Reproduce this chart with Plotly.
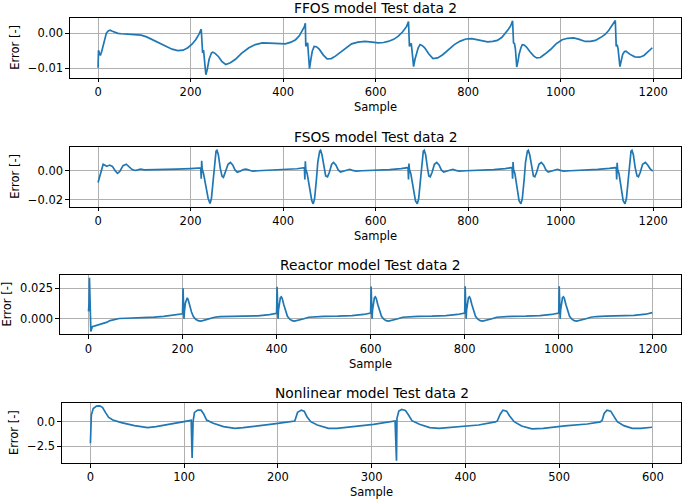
import plotly.graph_objects as go

# ---------------- data ----------------
ffos_x = [0, 1, 3, 5, 8, 12, 18, 22, 26, 31, 36, 43, 50, 62, 75, 85, 93, 105, 118, 132, 147, 160, 172, 184, 194, 203, 211, 218, 223,
          224, 226, 228, 230, 233, 236, 240, 245, 248, 253, 260, 268, 276, 286, 297, 310, 326, 340, 355, 370, 383, 395, 405, 417, 427, 435, 441, 446, 448,
          449, 451, 453, 455, 457, 460, 463, 467, 472, 478, 487, 495, 504, 513, 530, 548, 562, 577, 592, 606, 617, 627, 639, 649, 658, 667, 671,
          673, 675, 677, 680, 682, 685, 688, 692, 696, 701, 706, 715, 724, 734, 745, 757, 770, 783, 795, 808, 820, 832, 842, 853, 863, 873, 881, 887, 892, 896,
          898, 900, 902, 905, 908, 910, 914, 917, 921, 926, 934, 942, 948, 956, 966, 978, 990, 1003, 1015, 1028, 1040, 1053, 1064, 1075, 1086, 1096, 1104, 1110, 1118,
          1120, 1122, 1124, 1128, 1131, 1134, 1138, 1141, 1145, 1150, 1160, 1171, 1180, 1186, 1192, 1198]
ffos_y = [-0.0099, -0.0049, -0.0058, -0.0064, -0.0052, -0.003, 0.0, 0.0006, 0.0008, 0.0005, 0.0002, -0.0001, -0.0002, -0.0003, -0.0003, -0.0004, -0.0006, -0.0011, -0.0019, -0.0029, -0.0038, -0.0046, -0.005, -0.0049, -0.0042, -0.0032, -0.0019, -0.0004, 0.0011,
          -0.0028, -0.0057, -0.0049, -0.008, -0.0119, -0.0104, -0.0075, -0.0057, -0.0055, -0.0058, -0.0067, -0.0082, -0.009, -0.0085, -0.0075, -0.0058, -0.0042, -0.0033, -0.0028, -0.0029, -0.003, -0.0031, -0.0031, -0.0026, -0.0019, -0.0008, 0.0005, 0.0018, 0.0028,
          -0.0038, -0.0032, -0.0028, -0.0065, -0.0102, -0.0075, -0.0052, -0.0038, -0.0039, -0.0046, -0.0063, -0.0074, -0.0073, -0.0066, -0.0048, -0.0031, -0.0026, -0.0024, -0.0026, -0.0028, -0.0027, -0.0024, -0.0018, -0.0009, 0.0003, 0.0019, 0.0033,
          -0.0038, -0.0032, -0.003, -0.0068, -0.0096, -0.0075, -0.0057, -0.0042, -0.0033, -0.0036, -0.0042, -0.006, -0.0073, -0.0071, -0.0062, -0.0048, -0.0033, -0.0023, -0.0017, -0.0016, -0.0019, -0.0023, -0.0025, -0.0024, -0.0021, -0.0012, 0.0, 0.0011, 0.0021, 0.0035,
          -0.0028, -0.003, -0.0045, -0.0097, -0.0078, -0.0061, -0.0042, -0.0033, -0.0034, -0.004, -0.0054, -0.0066, -0.0071, -0.007, -0.006, -0.0047, -0.0031, -0.0019, -0.0015, -0.0014, -0.0018, -0.0024, -0.0024, -0.0021, -0.0013, -0.0004, 0.0008, 0.0019, 0.0036,
          -0.0038, -0.0033, -0.0045, -0.0096, -0.0078, -0.0061, -0.0053, -0.0052, -0.0056, -0.0061, -0.0068, -0.0069, -0.0064, -0.0057, -0.005, -0.0042]

fsos_x = [0, 3, 6, 11, 15, 19, 25, 31, 37, 42, 47, 54, 61, 67, 73, 80, 86, 92, 100, 115, 140, 170, 200,
          222, 223, 224, 225, 228, 233, 238, 242, 245, 249, 252, 255, 257, 260, 264, 268, 271, 275, 281, 286, 291, 296, 301, 307, 314, 320, 326, 334, 345, 370, 400, 430,
          446, 447, 448, 449, 452, 457, 462, 465, 468, 472, 475, 479, 481, 484, 488, 492, 496, 500, 505, 509, 514, 519, 524, 531, 538, 544, 550, 558, 570, 600, 630, 655,
          670, 671, 672, 673, 676, 681, 686, 690, 693, 697, 700, 703, 705, 708, 712, 715, 718, 722, 727, 732, 737, 742, 747, 754, 761, 767, 773, 781, 795, 825, 855, 880,
          895, 896, 897, 898, 901, 905, 910, 914, 917, 921, 924, 928, 930, 933, 937, 941, 944, 948, 953, 958, 963, 968, 973, 980, 987, 993, 999, 1007, 1020, 1050, 1080, 1105,
          1120, 1121, 1122, 1123, 1126, 1130, 1135, 1139, 1142, 1146, 1149, 1152, 1154, 1157, 1161, 1165, 1168, 1172, 1177, 1183, 1188, 1193, 1199]
fsos_y = [-0.008, -0.004, -0.001, 0.0045, 0.0038, 0.003, 0.0039, 0.003, 0.0, -0.0018, -0.0005, 0.0035, 0.0045, 0.003, 0.001, 0.0002, 0.0008, 0.0011, 0.0006, 0.0006, 0.0008, 0.0011, 0.0015,
          0.0019, -0.0055, 0.0068, 0.0012, -0.002, -0.010, -0.019, -0.0225, -0.019, -0.006, 0.006, 0.0135, 0.0141, 0.011, 0.002, -0.0038, -0.0045, -0.001, 0.0045, 0.0057, 0.004, 0.0006, -0.0011, -0.0004, 0.0009, 0.0011, 0.0003, -0.0003, 0.0, 0.0003, 0.0008, 0.0014,
          0.0021, -0.006, 0.0065, 0.001, -0.002, -0.011, -0.0205, -0.0227, -0.019, -0.006, 0.006, 0.0135, 0.0141, 0.011, 0.002, -0.0035, -0.0041, -0.001, 0.0045, 0.0057, 0.004, 0.0006, -0.0009, -0.0003, 0.0008, 0.001, 0.0003, -0.0002, 0.0, 0.0002, 0.0008, 0.0015,
          0.0022, -0.006, 0.005, 0.001, -0.002, -0.011, -0.0205, -0.0227, -0.019, -0.006, 0.006, 0.0135, 0.0141, 0.011, 0.002, -0.0035, -0.0041, -0.001, 0.0045, 0.0057, 0.004, 0.0006, -0.0009, -0.0003, 0.0008, 0.001, 0.0003, -0.0002, 0.0, 0.0002, 0.0008, 0.0015,
          0.0022, -0.0055, 0.006, 0.001, -0.002, -0.011, -0.0205, -0.0227, -0.019, -0.006, 0.006, 0.0135, 0.0141, 0.011, 0.002, -0.0035, -0.0041, -0.001, 0.0045, 0.0057, 0.004, 0.0006, -0.0009, -0.0003, 0.0008, 0.001, 0.0003, -0.0002, 0.0, 0.0003, 0.0009, 0.0016,
          0.0022, -0.006, 0.0055, 0.001, -0.002, -0.011, -0.0205, -0.0227, -0.019, -0.006, 0.006, 0.0135, 0.0141, 0.011, 0.002, -0.0035, -0.0041, -0.001, 0.0045, 0.0057, 0.004, 0.0015, -0.0002]

reactor_x = [0, 1, 2, 3, 4, 5, 6, 8, 12, 18, 24, 30, 38, 46, 55, 65, 80, 100, 120, 140, 160, 180, 199,
             200, 201, 202, 203, 204, 206, 208, 210, 212, 215, 219, 223, 228, 233, 238, 243, 250, 258, 268, 280, 300, 330, 360, 385, 399,
             400, 401, 402, 403, 404, 406, 408, 410, 412, 415, 419, 423, 428, 433, 438, 443, 450, 458, 468, 480, 500, 530, 560, 585, 599,
             600, 601, 602, 603, 604, 606, 608, 610, 612, 615, 619, 623, 628, 633, 638, 643, 650, 658, 668, 680, 700, 730, 760, 785, 799,
             800, 801, 802, 803, 804, 806, 808, 810, 812, 815, 819, 823, 828, 833, 838, 843, 850, 858, 868, 880, 900, 930, 960, 985, 999,
             1000, 1001, 1002, 1003, 1004, 1006, 1008, 1010, 1012, 1015, 1019, 1023, 1028, 1033, 1038, 1043, 1050, 1058, 1068, 1080, 1100, 1130, 1160, 1185, 1199]
reactor_y = [0.006, 0.012, 0.0335, 0.02, 0.0, -0.0105, -0.009, -0.0065, -0.006, -0.0058, -0.005, -0.0042, -0.003, -0.0015, -0.0004, 0.0002, 0.0004, 0.0006, 0.0009, 0.0013, 0.0019, 0.0027, 0.0037,
             0.004, 0.025, 0.012, 0.0, 0.006, 0.013, 0.016, 0.0171, 0.0155, 0.011, 0.0055, 0.0018, -0.0005, -0.0016, -0.0019, -0.0015, -0.0008, 0.0, 0.0012, 0.0017, 0.0019, 0.002, 0.0024, 0.0034, 0.0043,
             0.0045, 0.0262, 0.012, 0.0, 0.007, 0.014, 0.0172, 0.0179, 0.0165, 0.0118, 0.006, 0.002, -0.0004, -0.0016, -0.0019, -0.0015, -0.0008, 0.0, 0.0012, 0.0017, 0.002, 0.0021, 0.0025, 0.0035, 0.0045,
             0.0046, 0.0263, 0.012, 0.0, 0.007, 0.014, 0.0172, 0.0179, 0.0165, 0.0118, 0.006, 0.002, -0.0004, -0.0016, -0.0019, -0.0015, -0.0008, 0.0, 0.0012, 0.0017, 0.002, 0.0021, 0.0025, 0.0035, 0.0046,
             0.0047, 0.0265, 0.012, 0.0, 0.007, 0.014, 0.0172, 0.0179, 0.0165, 0.0118, 0.006, 0.002, -0.0004, -0.0016, -0.0019, -0.0015, -0.0008, 0.0, 0.0012, 0.0017, 0.002, 0.0021, 0.0025, 0.0035, 0.0047,
             0.0047, 0.0265, 0.012, 0.0, 0.007, 0.014, 0.0173, 0.018, 0.0166, 0.0118, 0.006, 0.002, -0.0004, -0.0016, -0.0019, -0.0015, -0.0008, 0.0, 0.0012, 0.0018, 0.0021, 0.0023, 0.0027, 0.0037, 0.005]

nonlin_x = [0, 1, 3, 6.5, 10, 13, 16, 19.5, 24, 33, 47, 61, 70, 89, 107.5,
            108.5, 109.5, 111, 114.5, 118, 120.5, 124, 131, 142, 154, 163, 182, 200, 218,
            219, 221, 225, 228, 231, 235, 242, 254, 263, 279, 302, 325,
            326.5, 327, 329, 332, 336, 339, 343, 351, 362, 372, 390, 414, 432,
            434, 437, 440, 444, 447, 452, 460, 471, 483, 506, 530, 544,
            546, 548, 551, 555, 558, 562, 569, 578, 587, 599]
nonlin_y = [-2.2, 0.68, 1.35, 1.59, 1.62, 1.45, 0.95, 0.44, 0.17, -0.1, -0.41, -0.61, -0.51, -0.2, 0.14,
            -3.72, 0.0, 0.95, 1.18, 1.18, 0.84, 0.17, -0.17, -0.51, -0.68, -0.61, -0.41, -0.17, 0.07,
            0.34, 0.95, 1.18, 1.08, 0.51, 0.0, -0.34, -0.68, -0.68, -0.51, -0.27, 0.07,
            -3.99, 0.34, 1.08, 1.25, 1.15, 0.74, 0.1, -0.27, -0.61, -0.68, -0.51, -0.34, -0.03,
            0.07, 0.74, 1.18, 1.08, 0.61, 0.0, -0.44, -0.74, -0.68, -0.44, -0.24, -0.03,
            0.17, 0.84, 1.18, 1.08, 0.61, 0.0, -0.41, -0.68, -0.68, -0.57]

titles = ["FFOS model Test data 2", "FSOS model Test data 2",
          "Reactor model Test data 2", "Nonlinear model Test data 2"]
x_label = "Sample"
y_label = "Error [-]"

x_ticks_long = [0, 200, 400, 600, 800, 1000, 1200]
x_ticks_short = [0, 100, 200, 300, 400, 500, 600]
y_ticks = [[-0.01, 0.0], [-0.02, 0.0], [0.0, 0.025], [-2.5, 0.0]]
y_ticktext = [["−0.01", "0.00"], ["−0.02", "0.00"], ["0.000", "0.025"], ["−2.5", "0.0"]]

# ---------------- layout geometry (pixels) ----------------
W, H = 685, 500
boxes = [  # left, right, top, bottom
    (70.3, 681, 18, 77.5),
    (70.3, 681, 147, 206.5),
    (60.3, 681, 275, 334),
    (62.3, 681, 403.3, 462.7),
]
x_ranges = [[-60, 1260], [-60, 1260], [-60, 1260], [-30, 630]]
y_ranges = [[-0.0127, 0.0043], [-0.0245, 0.0163], [-0.0125, 0.0358], [-4.2, 1.88]]
ylab_x = [15, 15, 6, 14]

FONT = "DejaVu Sans"
BLUE = "#1f77b4"

series = [(ffos_x, ffos_y), (fsos_x, fsos_y), (reactor_x, reactor_y), (nonlin_x, nonlin_y)]

fig = go.Figure()
annotations = []
for i, ((xs, ys), (l, r, t, b)) in enumerate(zip(series, boxes)):
    n = i + 1
    fig.add_trace(go.Scatter(x=xs, y=ys, mode="lines", line=dict(color=BLUE, width=1.7),
                             xaxis=f"x{n}", yaxis=f"y{n}", showlegend=False))
    common = dict(showline=True, mirror=True, linecolor="black", linewidth=0.9,
                  ticks="outside", ticklen=4, tickwidth=0.9, tickcolor="black",
                  showgrid=True, gridcolor="#b0b0b0", gridwidth=0.9, zeroline=False,
                  tickfont=dict(family=FONT, size=11.5, color="black"))
    xt = x_ticks_short if i == 3 else x_ticks_long
    fig.layout[f"xaxis{n}"] = dict(common, domain=[l / W, r / W], range=x_ranges[i],
                                   anchor=f"y{n}", tickvals=xt, ticktext=[str(v) for v in xt])
    fig.layout[f"yaxis{n}"] = dict(common, domain=[1 - b / H, 1 - t / H], range=y_ranges[i],
                                   anchor=f"x{n}", tickvals=y_ticks[i], ticktext=y_ticktext[i])
    annotations.append(dict(text=titles[i], x=(l + r) / 2 / W, y=1 - (t - 10.5) / H,
                            xref="paper", yref="paper", xanchor="center", yanchor="middle",
                            showarrow=False, font=dict(family=FONT, size=13.8, color="black")))
    annotations.append(dict(text=x_label, x=(l + r) / 2 / W, y=1 - (b + 29.5) / H,
                            xref="paper", yref="paper", xanchor="center", yanchor="middle",
                            showarrow=False, font=dict(family=FONT, size=11.5, color="black")))
    annotations.append(dict(text=y_label, x=ylab_x[i] / W, y=1 - (t + b) / 2 / H, textangle=-90,
                            xref="paper", yref="paper", xanchor="center", yanchor="middle",
                            showarrow=False, font=dict(family=FONT, size=11.5, color="black")))

fig.update_layout(width=W, height=H, margin=dict(l=0, r=0, t=0, b=0),
                  paper_bgcolor="white", plot_bgcolor="white",
                  annotations=annotations)
fig.write_html("out.html", config={"displayModeBar": False},
               post_script="document.body.style.margin='0';document.body.style.overflow='hidden';")
